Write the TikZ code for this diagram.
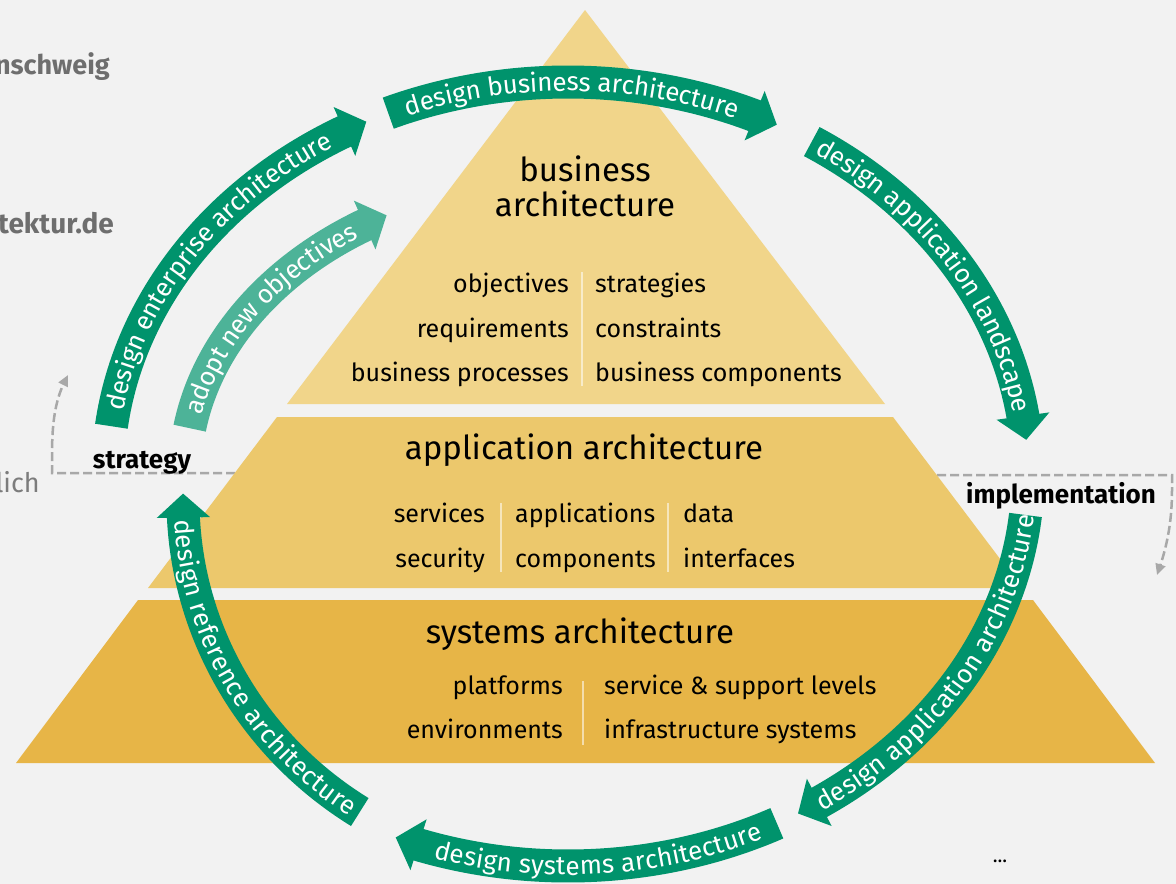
\documentclass[tikz,border=0pt]{standalone}
\usepackage{fontspec}
\setmainfont{Fira Sans}
\usetikzlibrary{arrows.meta,bending,decorations.text,positioning}

\definecolor{bgcol}{HTML}{F2F2F2}
\definecolor{tierbiz}{HTML}{F1D58A}
\definecolor{tierapp}{HTML}{ECC86C}
\definecolor{tiersys}{HTML}{E7B547}
\definecolor{eagreen}{HTML}{00936C}
\definecolor{eagreenlight}{HTML}{4DB398}
\definecolor{dashgray}{HTML}{A8A8A8}
\definecolor{cutgray}{HTML}{6E6E6E}

\newcommand{\arrowfont}{\color{white}\fontsize{26}{26}\selectfont}
\newcommand{\titlefont}{\fontsize{33}{36}\selectfont}
\newcommand{\itemfont}{\fontsize{25}{25}\selectfont}

\tikzset{
  band/.style={draw=#1, line width=33pt, -{Triangle[width=52pt 0, length=24pt 0]}},
  bandtext/.style={decorate, decoration={text along path, text align=center, raise=-9pt, text={|\arrowfont|#1}}},
  tiertitle/.style={inner sep=0pt, anchor=base, font=\titlefont},
  tieritem/.style={inner sep=0pt, font=\itemfont},
  sepline/.style={draw=white, opacity=0.55, line width=1.5pt},
  dashline/.style={draw=dashgray, line width=2.5pt, dash pattern=on 9pt off 4pt, -{Triangle[width=10pt 0, length=11pt 0]}},
  phase/.style={inner sep=0pt, anchor=base, font=\bfseries\fontsize{26}{26}\selectfont},
}

\begin{document}
\begin{tikzpicture}[x=1pt, y=-1pt]

\fill[bgcol] (0,0) rectangle (1176,884);
\useasboundingbox (0,0) rectangle (1176,884);

% cut off texts of the slide
\node[inner sep=0pt, anchor=base east, text=cutgray, font=\bfseries\fontsize{27}{27}\selectfont] (cutA) at (110,74) {nschweig};
\node[inner sep=0pt, anchor=base west, text=cutgray, font=\bfseries\fontsize{28}{28}\selectfont] (cutB) at (-2,233) {tektur.de};
\node[inner sep=0pt, anchor=base east, text=cutgray!90, font=\fontsize{27}{27}\selectfont] (cutC) at (40,492) {lich};

% strategy / implementation lines
\coordinate (stratCorner) at (52,473);
\coordinate (stratEnd) at (68,375);
\coordinate (implCorner) at (1172,475);
\coordinate (implEnd) at (1157,575);
\draw[dashline] (235,473) -- (stratCorner) -- (52,455) .. controls (52,415) and (57,395) .. (stratEnd);
\draw[dashline] (937,475) -- (implCorner) -- (1172,490) .. controls (1172,525) and (1166,550) .. (implEnd);

% pyramid
\fill[tierbiz] (585,10) -- (885,404) -- (287,404) -- cycle;% business tier
\fill[tierapp] (277,417) -- (893,417) -- (1022,588) -- (148,588) -- cycle;% application tier
\fill[tiersys] (138,600) -- (1033,600) -- (1155,763) -- (16,763) -- cycle;% systems tier

\node[tiertitle] (bizTitleA) at (585,181) {business};
\node[tiertitle] (bizTitleB) at (585,216) {architecture};
\node[tieritem, anchor=base east] (objectives) at (569,292) {objectives};
\node[tieritem, anchor=base east] (requirements) at (569,337) {requirements};
\node[tieritem, anchor=base east] (processes) at (569,381) {business processes};
\node[tieritem, anchor=base west] (strategies) at (595,292) {strategies};
\node[tieritem, anchor=base west] (constraints) at (595,337) {constraints};
\node[tieritem, anchor=base west] (bizcomponents) at (595,381) {business components};
\draw[sepline] (582,272) -- (582,386);

\node[tiertitle] (appTitle) at (584,459) {application architecture};
\node[tieritem, anchor=base east] (services) at (485,522) {services};
\node[tieritem, anchor=base east] (security) at (485,567) {security};
\node[tieritem, anchor=base west] (applications) at (515,522) {applications};
\node[tieritem, anchor=base west] (components) at (515,567) {components};
\node[tieritem, anchor=base west] (data) at (683,522) {data};
\node[tieritem, anchor=base west] (interfaces) at (683,567) {interfaces};
\draw[sepline] (501,503) -- (501,572);
\draw[sepline] (668,503) -- (668,572);

\node[tiertitle] (sysTitle) at (580,643) {systems architecture};
\node[tieritem, anchor=base east] (platforms) at (563,694) {platforms};
\node[tieritem, anchor=base east] (environments) at (563,738) {environments};
\node[tieritem, anchor=base west] (levels) at (604,694) {service \& support levels};
\node[tieritem, anchor=base west] (infra) at (604,738) {infrastructure systems};
\draw[sepline] (583,681) -- (583,745);

% cycle of green arrows
\begin{scope}[shift={(568,474)}]
  \draw[band=eagreen] (187:460 and 392) arc[start angle=187, end angle=244, x radius=460, y radius=392];% enterprise
  \path[bandtext={design enterprise architecture}] (187:460 and 392) arc[start angle=187, end angle=241, x radius=460, y radius=392];
  \draw[band=eagreen] (247:460 and 392) arc[start angle=247, end angle=297, x radius=460, y radius=392];% business
  \path[bandtext={design business architecture}] (247:460 and 392) arc[start angle=247, end angle=294, x radius=460, y radius=392];
  \draw[band=eagreen] (302:460 and 392) arc[start angle=302, end angle=355, x radius=460, y radius=392];% landscape
  \path[bandtext={design application landscape}] (302:460 and 392) arc[start angle=302, end angle=352, x radius=460, y radius=392];
  \draw[band=eagreen] (6:460 and 392) arc[start angle=6, end angle=60, x radius=460, y radius=392];% application
  \path[bandtext={design application architecture}] (58:460 and 392) arc[start angle=58, end angle=5, x radius=460, y radius=392];
  \draw[band=eagreen] (63:460 and 392) arc[start angle=63, end angle=112, x radius=460, y radius=392];% systems
  \path[bandtext={design systems architecture}] (109:460 and 392) arc[start angle=109, end angle=63, x radius=460, y radius=392];
\end{scope}
\begin{scope}[shift={(565,500)}]
  \draw[band=eagreen] (122.5:382 and 370) arc[start angle=122.5, end angle=181, x radius=382, y radius=370];% reference
  \path[bandtext={design reference architecture}] (178:382 and 370) arc[start angle=178, end angle=122.5, x radius=382, y radius=370];
\end{scope}
\begin{scope}[shift={(565,474)}]
  \draw[band=eagreenlight] (189:380 and 293) arc[start angle=189, end angle=242, x radius=380, y radius=293];% new objectives
  \path[bandtext={adopt new objectives}] (189:380 and 293) arc[start angle=189, end angle=239, x radius=380, y radius=293];
\end{scope}

\node[phase] (strategy) at (142,468) {strategy};
\node[phase] (implementation) at (1061,503) {implementation};
\node[inner sep=0pt, anchor=base, font=\fontsize{20}{20}\selectfont] (more) at (1000,862) {...};

\end{tikzpicture}
\end{document}
